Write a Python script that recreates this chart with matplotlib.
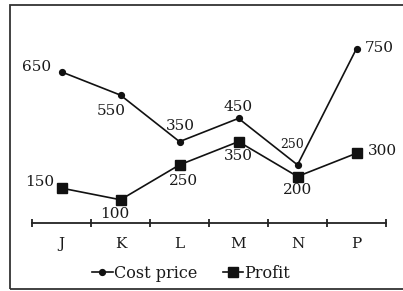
#
# Cost price and profit line chart
#
import numpy as np
import matplotlib.pyplot as plt
import matplotlib
from matplotlib.patches import Rectangle

categories = ['J', 'K', 'L', 'M', 'N', 'P']
cost_price = [650, 550, 350, 450, 250, 750]
profit = [150, 100, 250, 350, 200, 300]

# label offsets (points) for each value label
cost_offsets = [(-18, 3.6), (-6.5, -11.5), (0.7, 11.5), (0, 8), (-3.6, 15), (16.5, 0.7)]
profit_offsets = [(-16, 4.3), (-4.3, -10), (3, -11.5), (0, -10), (0, -10), (18.7, 1.4)]

matplotlib.rc('font', family='DejaVu Serif', size=11)

fig = plt.figure(figsize=(4.03, 2.91), dpi=100)
ax = fig.add_axes([32 / 403, 68 / 291, 354 / 403, 186 / 291])

x = np.arange(len(categories))
ax.plot(x, cost_price, '-o', color='#111111', lw=1.2, ms=4.2, label='Cost price')
ax.plot(x, profit, '-s', color='#111111', lw=1.2, ms=6.5, label='Profit')

for i, v in enumerate(cost_price):
    fs = 9 if i == 4 else 11
    ax.annotate(str(v), (x[i], v), xytext=cost_offsets[i], textcoords='offset points',
                ha='center', va='center', fontsize=fs, color='#1a1a1a')
for i, v in enumerate(profit):
    ax.annotate(str(v), (x[i], v), xytext=profit_offsets[i], textcoords='offset points',
                ha='center', va='center', fontsize=11, color='#1a1a1a')

ax.set_xlim(-0.5, 5.5)
ax.set_ylim(0, 800)
for s in ['top', 'right', 'left']:
    ax.spines[s].set_visible(False)
ax.spines['bottom'].set_linewidth(1.3)
ax.spines['bottom'].set_color('#222222')
ax.set_yticks([])
ax.set_xticks(x)
ax.set_xticklabels(categories, color='#1a1a1a')
ax.set_xticks(np.arange(-0.5, 6, 1), minor=True)
ax.tick_params(axis='x', which='major', length=0, pad=10)
ax.tick_params(axis='x', which='minor', direction='inout', length=6, width=1.3, color='#222222')

fig.legend(loc='center', bbox_to_anchor=(191 / 403, 1 - 273 / 291), ncol=2, frameon=False,
           handlelength=1.3, handletextpad=0.05, columnspacing=1.6, fontsize=11.5,
           labelcolor='#1a1a1a')

fig.patches.append(Rectangle((10 / 403, 2 / 291), 1.0, 284 / 291, transform=fig.transFigure,
                             fill=False, lw=1.3, edgecolor='#333333'))

plt.savefig('out.png', dpi=100)
plt.close()
